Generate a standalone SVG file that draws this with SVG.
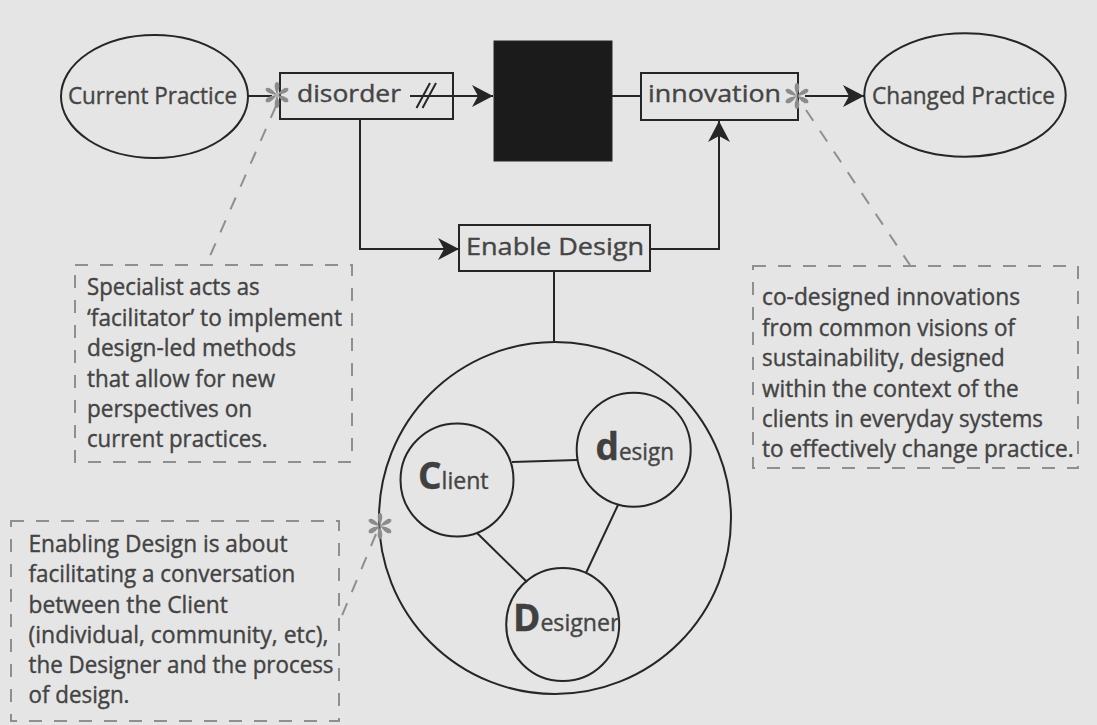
<svg xmlns="http://www.w3.org/2000/svg" width="1097" height="725" viewBox="0 0 1097 725">
  <style>
    .bg { fill: #e5e5e5; }
    .shape { fill: none; stroke: #262626; stroke-width: 2; }
    .line { fill: none; stroke: #262626; stroke-width: 2; }
    .note { fill: none; stroke: #8f8f8f; stroke-width: 2; stroke-dasharray: 13 12; }
    .lbl { font-family: "Open Sans", "Noto Sans", sans-serif; font-size: 24px; fill: #454545; stroke: #454545; stroke-width: 0.4; }
    .txt { font-family: "Open Sans", "Noto Sans", sans-serif; font-size: 23.5px; fill: #434343; stroke: #434343; stroke-width: 0.4; }
    .big { font-weight: 700; font-size: 37px; fill: #404040; stroke: #404040; }
  </style>
  <defs>
    <marker id="arrow" markerUnits="userSpaceOnUse" markerWidth="24" markerHeight="24" viewBox="-22 -12 24 24" refX="0" refY="0" orient="auto">
      <path d="M0,0 L-21,-11 L-15,0 L-21,11 Z" fill="#262626"/>
    </marker>
    <!-- six-armed asterisk, each arm a tapered petal -->
    <path id="petal" d="M0,0 L-1.3,-4 C-2.8,-8 -2.8,-12.5 0,-13 C2.8,-12.5 2.8,-8 1.3,-4 Z" fill="#8c8c8c"/>
    <g id="star" fill="#8c8c8c">
      <use href="#petal"/>
      <use href="#petal" transform="rotate(60)"/>
      <use href="#petal" transform="rotate(120)"/>
      <use href="#petal" transform="rotate(180)"/>
      <use href="#petal" transform="rotate(240)"/>
      <use href="#petal" transform="rotate(300)"/>
    </g>
  </defs>

  <rect class="bg" x="0" y="0" width="1097" height="725"/>

  <!-- connectors -->
  <g id="connectors">
    <path class="line" d="M248,96 H272"/>
    <path class="line" d="M410,96 H493" marker-end="url(#arrow)"/>
    <path class="line" d="M416.5,108 L430,83 M422.5,108 L436,83"/>
    <path class="line" d="M612,96 H641"/>
    <path class="line" d="M805,96 H864" marker-end="url(#arrow)"/>
    <path class="line" d="M360,119 V249 H459" marker-end="url(#arrow)"/>
    <path class="line" d="M650,249 H719 V121" marker-end="url(#arrow)"/>
    <path class="line" d="M554,271 V341"/>
    <path class="line" d="M512,462 L577,460"/>
    <path class="line" d="M477,533 L527,582"/>
    <path class="line" d="M618,505 L586,573"/>
    <!-- dashed callout leaders -->
    <path class="note" d="M276,106 L206,265"/>
    <path class="note" d="M806,110 L910,265"/>
    <path class="note" d="M376,534 L341,618"/>
  </g>

  <!-- flow nodes -->
  <g id="current-practice">
    <ellipse class="shape" cx="154.5" cy="96.5" rx="93.5" ry="61.5"/>
    <text class="lbl" x="68" y="104" textLength="169" lengthAdjust="spacingAndGlyphs">Current Practice</text>
  </g>
  <g id="disorder">
    <rect class="shape" x="280" y="73" width="173" height="46"/>
    <text class="lbl" x="297" y="102" textLength="104" lengthAdjust="spacingAndGlyphs">disorder</text>
  </g>
  <g id="black-box">
    <rect x="494" y="41" width="118" height="120" fill="#1b1b1b" stroke="#262626" stroke-width="1"/>
  </g>
  <g id="innovation">
    <rect class="shape" x="641" y="73" width="157" height="47"/>
    <text class="lbl" x="648" y="102" textLength="133" lengthAdjust="spacingAndGlyphs">innovation</text>
  </g>
  <g id="changed-practice">
    <ellipse class="shape" cx="965" cy="95" rx="100.7" ry="61.7"/>
    <text class="lbl" x="872" y="104" textLength="183" lengthAdjust="spacingAndGlyphs">Changed Practice</text>
  </g>
  <g id="enable-design">
    <rect class="shape" x="459" y="225" width="191" height="46"/>
    <text class="lbl" x="466" y="255" textLength="178" lengthAdjust="spacingAndGlyphs">Enable Design</text>
  </g>

  <!-- conversation cluster -->
  <g id="conversation">
    <circle class="shape" cx="555" cy="518" r="176"/>
  </g>
  <g id="client">
    <circle class="shape" cx="457" cy="480" r="56.5"/>
    <text class="lbl" x="418" y="489"><tspan class="big">C</tspan><tspan textLength="47" lengthAdjust="spacingAndGlyphs">lient</tspan></text>
  </g>
  <g id="design">
    <circle class="shape" cx="633.7" cy="449.7" r="57"/>
    <text class="lbl" x="595.5" y="459.5"><tspan class="big">d</tspan><tspan textLength="55" lengthAdjust="spacingAndGlyphs">esign</tspan></text>
  </g>
  <g id="designer">
    <circle class="shape" cx="562.7" cy="624.5" r="56.5"/>
    <text class="lbl" x="513" y="631"><tspan class="big">D</tspan><tspan textLength="79" lengthAdjust="spacingAndGlyphs">esigner</tspan></text>
  </g>

  <!-- asterisk markers -->
  <g id="markers">
    <use href="#star" x="277" y="95"/>
    <use href="#star" x="797" y="96"/>
    <use href="#star" x="380" y="526"/>
  </g>

  <!-- callout notes -->
  <g id="note-specialist">
    <rect class="note" x="75" y="265" width="277" height="197"/>
    <text class="txt">
      <tspan x="87" y="295" textLength="172.6" lengthAdjust="spacingAndGlyphs">Specialist acts as</tspan>
      <tspan x="87" y="325.5" textLength="255" lengthAdjust="spacingAndGlyphs">‘facilitator’ to implement</tspan>
      <tspan x="87" y="356" textLength="209" lengthAdjust="spacingAndGlyphs">design-led methods</tspan>
      <tspan x="87" y="386.5" textLength="188" lengthAdjust="spacingAndGlyphs">that allow for new</tspan>
      <tspan x="87" y="416.5" textLength="165" lengthAdjust="spacingAndGlyphs">perspectives on</tspan>
      <tspan x="87" y="446.5" textLength="180.6" lengthAdjust="spacingAndGlyphs">current practices.</tspan>
    </text>
  </g>
  <g id="note-innovations">
    <rect class="note" x="753" y="266" width="325" height="202"/>
    <text class="txt">
      <tspan x="762" y="305" textLength="258" lengthAdjust="spacingAndGlyphs">co-designed innovations</tspan>
      <tspan x="762" y="335.5" textLength="253" lengthAdjust="spacingAndGlyphs">from common visions of</tspan>
      <tspan x="762" y="366" textLength="242.6" lengthAdjust="spacingAndGlyphs">sustainability, designed</tspan>
      <tspan x="762" y="396.5" textLength="256.6" lengthAdjust="spacingAndGlyphs">within the context of the</tspan>
      <tspan x="762" y="426.5" textLength="281" lengthAdjust="spacingAndGlyphs">clients in everyday systems</tspan>
      <tspan x="762" y="456.5" textLength="311.7" lengthAdjust="spacingAndGlyphs">to effectively change practice.</tspan>
    </text>
  </g>
  <g id="note-enabling">
    <rect class="note" x="11" y="521" width="328" height="200"/>
    <text class="txt">
      <tspan x="28.5" y="552" textLength="259" lengthAdjust="spacingAndGlyphs">Enabling Design is about</tspan>
      <tspan x="28.5" y="582.3" textLength="266.7" lengthAdjust="spacingAndGlyphs">facilitating a conversation</tspan>
      <tspan x="28.5" y="612.7" textLength="199.3" lengthAdjust="spacingAndGlyphs">between the Client</tspan>
      <tspan x="28.5" y="643" textLength="300" lengthAdjust="spacingAndGlyphs">(individual, community, etc),</tspan>
      <tspan x="28.5" y="673.3" textLength="305" lengthAdjust="spacingAndGlyphs">the Designer and the process</tspan>
      <tspan x="28.5" y="702.7" textLength="101" lengthAdjust="spacingAndGlyphs">of design.</tspan>
    </text>
  </g>
</svg>
